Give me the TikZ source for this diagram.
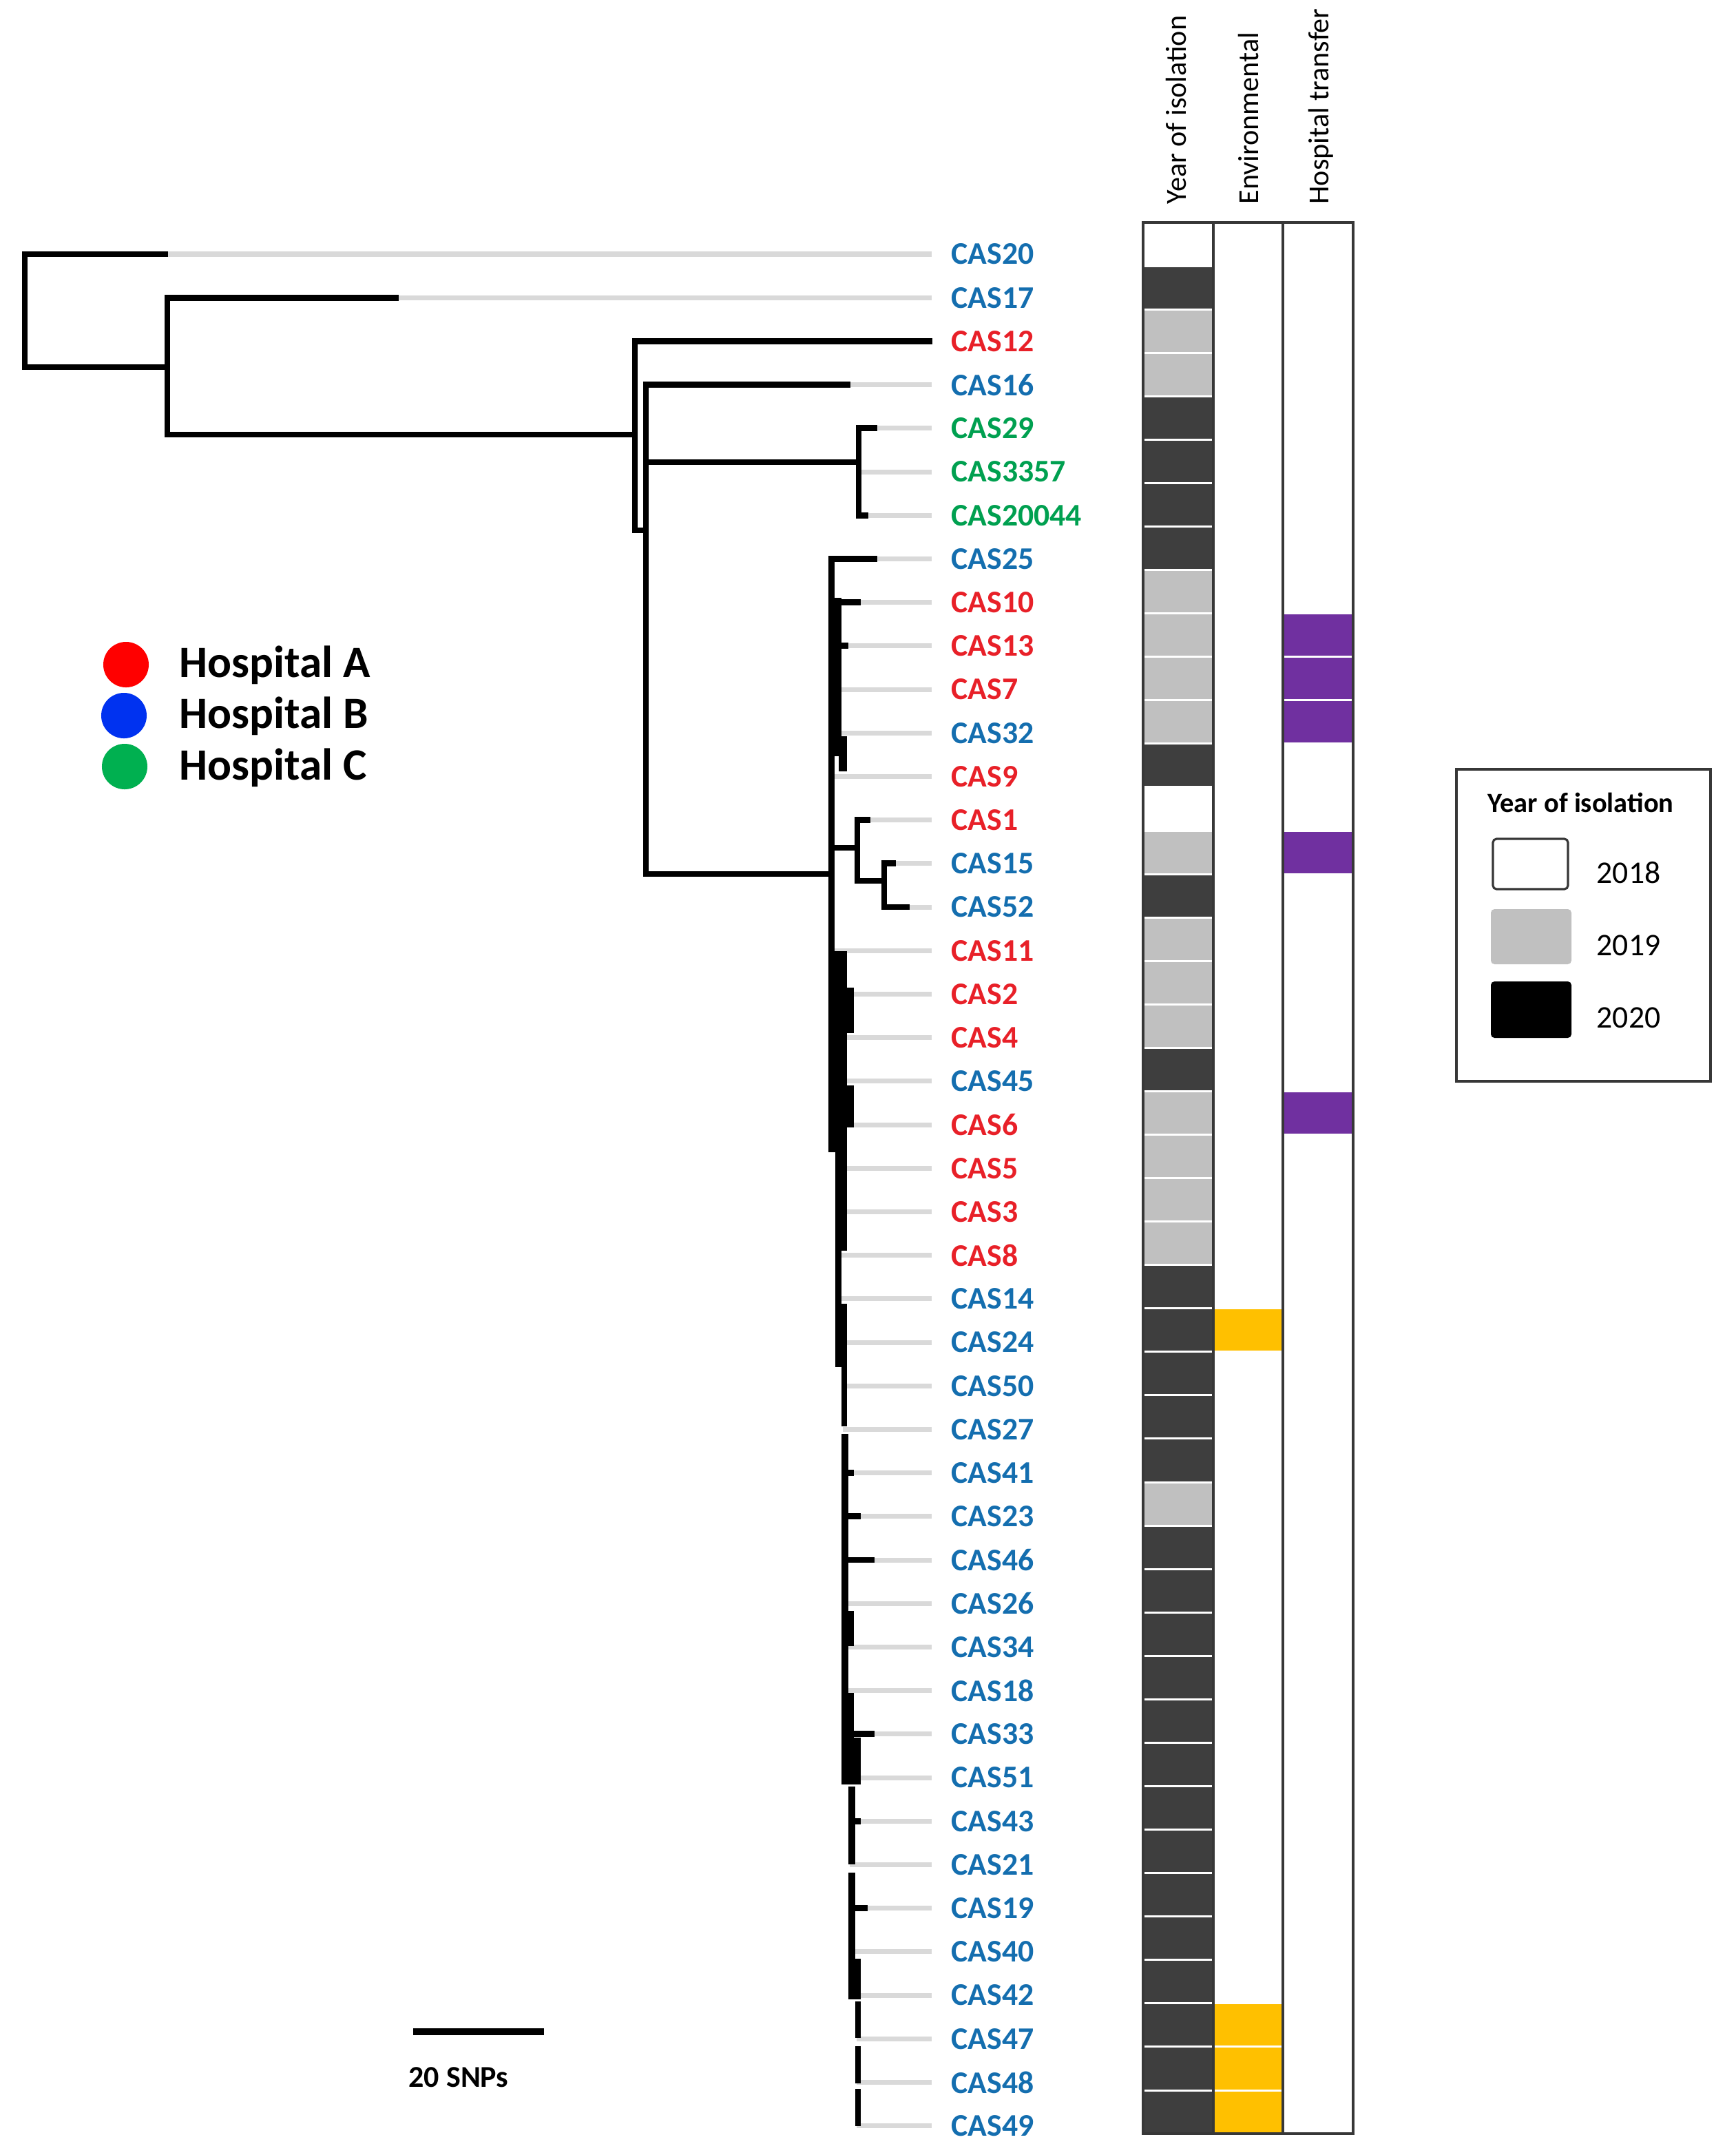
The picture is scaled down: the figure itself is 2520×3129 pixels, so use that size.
\documentclass[tikz,border=0pt]{standalone}
\usepackage{fontspec}
\setmainfont{Carlito}
\pgfmathdeclarefunction{ry}{1}{\pgfmathparse{369+63.2*#1}}
\pgfmathdeclarefunction{cy}{1}{\pgfmathparse{323+63.07*#1}}
\definecolor{labB}{RGB}{20,110,175}
\definecolor{labR}{RGB}{232,32,40}
\definecolor{labG}{RGB}{0,160,80}
\definecolor{tipgrey}{RGB}{217,217,217}
\definecolor{yr19}{RGB}{192,192,192}
\definecolor{yr20}{RGB}{62,62,62}
\definecolor{envY}{RGB}{255,192,0}
\definecolor{trP}{RGB}{112,48,160}
\definecolor{frameC}{RGB}{55,55,55}
\definecolor{dotR}{RGB}{255,0,0}
\definecolor{dotB}{RGB}{0,50,240}
\definecolor{dotG}{RGB}{0,176,80}
\begin{document}
\begin{tikzpicture}[x=0.01cm,y=-0.01cm,
  br/.style={line width=2.5pt, line cap=rect, black},
  stub/.style={line width=2.5pt, black},
  tipl/.style={line width=2pt, tipgrey},
  lab/.style={anchor=west, inner sep=0pt, font=\fontsize{13}{15}\selectfont\bfseries},
  hdr/.style={rotate=90, anchor=base west, inner sep=0pt, font=\fontsize{12}{14}\selectfont},
  frm/.style={draw=frameC, line width=1.1pt},
  hosp/.style={anchor=base west, inner sep=0pt, font=\fontsize{18.5}{22}\selectfont\bfseries},
  dot/.style={circle, inner sep=0pt, minimum size=0.66cm},
  yrnum/.style={anchor=base west, inner sep=0pt, font=\fontsize{13}{15}\selectfont},
  swatch/.style={rounded corners=1.5pt}]
\useasboundingbox (0,0) rectangle (2520,3129);
\fill[white] (0,0) rectangle (2520,3129);

% ---------- tips and labels ----------
\foreach \i/\n/\c in {0/CAS20/labB, 1/CAS17/labB, 2/CAS12/labR, 3/CAS16/labB,
  4/CAS29/labG, 5/CAS3357/labG, 6/CAS20044/labG, 7/CAS25/labB, 8/CAS10/labR,
  9/CAS13/labR, 10/CAS7/labR, 11/CAS32/labB, 12/CAS9/labR, 13/CAS1/labR,
  14/CAS15/labB, 15/CAS52/labB, 16/CAS11/labR, 17/CAS2/labR, 18/CAS4/labR,
  19/CAS45/labB, 20/CAS6/labR, 21/CAS5/labR, 22/CAS3/labR, 23/CAS8/labR,
  24/CAS14/labB, 25/CAS24/labB, 26/CAS50/labB, 27/CAS27/labB, 28/CAS41/labB,
  29/CAS23/labB, 30/CAS46/labB, 31/CAS26/labB, 32/CAS34/labB, 33/CAS18/labB,
  34/CAS33/labB, 35/CAS51/labB, 36/CAS43/labB, 37/CAS21/labB, 38/CAS19/labB,
  39/CAS40/labB, 40/CAS42/labB, 41/CAS47/labB, 42/CAS48/labB, 43/CAS49/labB}
{
  \coordinate (tip\i) at (1353,{ry(\i)});
  \node[lab, text=\c] (\n) at (1381,{ry(\i)}) {\n};
}

% grey leaf extensions (drawn under the black branches)
\foreach \i/\s in {0/36, 1/243, 3/938, 4/1247, 5/1247, 6/1247, 13/1245, 14/1284, 15/1284,
  7/1210, 8/1210, 9/1210, 10/1210, 11/1210, 12/1210,
  16/1212, 17/1212, 18/1212, 19/1212, 20/1212, 21/1215, 22/1215, 23/1215,
  24/1215, 25/1215, 26/1224, 27/1224, 28/1224, 29/1224, 30/1224, 31/1224,
  32/1224, 33/1224, 34/1224, 35/1224, 36/1234, 37/1234, 38/1234, 39/1234,
  40/1234, 41/1244, 42/1244, 43/1244}
  \draw[tipl] (\s,{ry(\i)}) -- (tip\i);

% ---------- internal nodes ----------
\coordinate (root) at (36,451);
\coordinate (nA) at (243,533);
\coordinate (nB) at (922,631);
\coordinate (nC) at (938,770);
\coordinate (nD) at (1247,671);
\coordinate (nE) at (1207,1269);
\coordinate (nF) at (1245,1231);
\coordinate (nG) at (1284,1279);

% black branch ends
\coordinate (e0) at (240,{ry(0)});
\coordinate (e1) at (575,{ry(1)});
\coordinate (e2) at (1350,{ry(2)});
\coordinate (e3) at (1231,{ry(3)});
\coordinate (e4) at (1270,{ry(4)});
\coordinate (e6) at (1257,{ry(6)});
\coordinate (e7) at (1270,{ry(7)});
\coordinate (e13) at (1260,{ry(13)});
\coordinate (e14) at (1297,{ry(14)});
\coordinate (e15) at (1317,{ry(15)});

\draw[br] (root) |- (e0);
\draw[br] (root) |- (nA);
\draw[br] (nA) |- (e1);
\draw[br] (nA) |- (nB);
\draw[br] (nB) |- (e2);
\draw[br] (nB) |- (nC);
\draw[br] (nC) |- (e3);
\draw[br] (nC) |- (nD);
\draw[br] (nC) |- (nE);
\draw[br] (nD) |- (e4);
\draw[br] (nD) |- (e6);
\draw[br] (nE) |- (e7);
\draw[br] (nE) |- (nF);
\draw[br] (nF) |- (e13);
\draw[br] (nF) |- (nG);
\draw[br] (nG) |- (e14);
\draw[br] (nG) |- (e15);

% dense polytomy band
\foreach \xa/\ya/\xb/\yb in {1203/807/1212/1673, 1203/868/1222/1098, 1218/1069/1230/1120,
  1203/1381/1230/1434, 1203/1434/1240/1500, 1203/1500/1230/1576, 1203/1576/1240/1637,
  1203/1637/1230/1673, 1213/1673/1230/1816, 1213/1816/1222/1893, 1213/1893/1230/1985,
  1222/1985/1230/2071, 1222/2082/1232/2339, 1222/2339/1240/2390, 1222/2390/1232/2458,
  1222/2458/1240/2523, 1222/2523/1250/2591, 1232/2594/1242/2707, 1232/2719/1242/2844,
  1232/2844/1250/2903, 1242/2906/1250/2959, 1242/2971/1250/3025, 1242/3033/1250/3087}
  \fill[black] (\xa,\ya) rectangle (\xb,\yb);

% short black stubs
\foreach \i/\a/\b in {8/1213/1250, 9/1222/1232, 28/1230/1240, 29/1230/1250,
  30/1232/1270, 34/1240/1270, 36/1242/1250, 38/1242/1260}
  \draw[stub] (\a,{ry(\i)}) -- (\b,{ry(\i)});

% ---------- heatmap ----------
\foreach \i in {1,4,5,6,7,12,15,19,24,25,26,27,28,30,31,32,33,34,35,36,37,38,39,40,41,42,43}
  \fill[yr20] (1660,{cy(\i)+1.5}) rectangle (1762,{cy(\i+1)-1.5});
\foreach \i in {2,3,8,9,10,11,14,16,17,18,20,21,22,23,29}
  \fill[yr19] (1662,{cy(\i)+1.5}) rectangle (1760,{cy(\i+1)-1.5});
\foreach \i in {25,41,42,43}
  \fill[envY] (1762,{cy(\i)+1.5}) rectangle (1863,{cy(\i+1)-1.5});
\foreach \i in {9,10,11,14,20}
  \fill[trP] (1863,{cy(\i)+1.5}) rectangle (1965,{cy(\i+1)-1.5});

\coordinate (hmTL) at (1660,323);
\coordinate (hmBR) at (1965,3098);
\coordinate (div1t) at (1762,323);
\coordinate (div1b) at (1762,3098);
\coordinate (div2t) at (1863,323);
\coordinate (div2b) at (1863,3098);
\draw[frm] (hmTL) rectangle (hmBR);
\draw[frm] (div1t) -- (div1b);
\draw[frm] (div2t) -- (div2b);

\node[hdr] (hYear) at (1722,297) {Year of isolation};
\node[hdr] (hEnv) at (1827,297) {Environmental};
\node[hdr] (hTrans) at (1929,297) {Hospital transfer};

% ---------- hospital legend ----------
\node[dot, fill=dotR] (dA) at (183,965) {};
\node[dot, fill=dotB] (dB) at (180,1039) {};
\node[dot, fill=dotG] (dC) at (181,1113) {};
\node[hosp] (hA) at (260,983) {Hospital A};
\node[hosp] (hB) at (260,1057) {Hospital B};
\node[hosp] (hC) at (260,1132) {Hospital C};

% ---------- year legend ----------
\draw[draw=frameC, line width=1pt] (2115,1117) rectangle (2484,1570);
\node[anchor=base west, inner sep=0pt, font=\fontsize{11.5}{14}\selectfont\bfseries] (lgT) at (2160,1179) {Year of isolation};
\draw[swatch, draw=frameC, line width=0.9pt, fill=white] (2168,1218) rectangle (2277,1291);
\fill[swatch, yr19] (2165,1320) rectangle (2282,1400);
\fill[swatch, black] (2165,1425) rectangle (2282,1507);
\node[yrnum] (y18) at (2318,1282) {2018};
\node[yrnum] (y19) at (2318,1387) {2019};
\node[yrnum] (y20) at (2318,1492) {2020};

% ---------- scale bar ----------
\coordinate (sb1) at (600,2950);
\coordinate (sb2) at (790,2950);
\draw[line width=2.8pt] (sb1) -- (sb2);
\node[anchor=base west, inner sep=0pt, font=\fontsize{12.5}{15}\selectfont\bfseries] (sbl) at (593,3030) {20 SNPs};
\end{tikzpicture}
\end{document}
